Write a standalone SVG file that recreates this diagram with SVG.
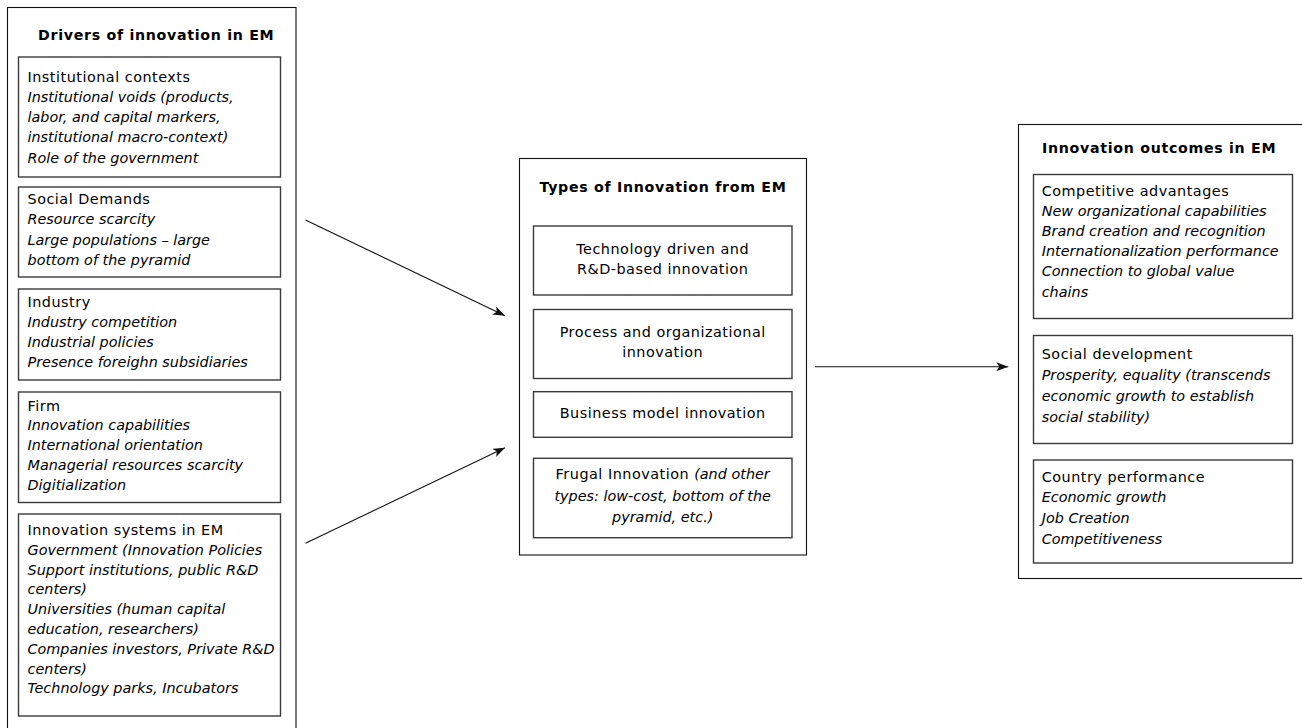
<svg xmlns="http://www.w3.org/2000/svg" width="1302" height="728" viewBox="0 0 1302 728">
<defs>
<style>
.outer{fill:#fff;stroke:#111;stroke-width:1.1}
.box{fill:#fff;stroke:#3a3a3a;stroke-width:1.4}
text{font-family:"DejaVu Sans","Liberation Sans",sans-serif;font-size:14.4px;fill:#000;letter-spacing:0.5px}
.t{font-weight:bold;font-size:14.2px;letter-spacing:0.7px}
.i{font-style:italic;letter-spacing:0}
.c{text-anchor:middle}
.conn{stroke:#111;stroke-width:1.1;fill:none}
</style>
<marker id="ah" markerUnits="userSpaceOnUse" markerWidth="13" markerHeight="10" refX="12" refY="4.5" orient="auto">
<path d="M0,0 L12,4.5 L0,9 L3,4.5 z" fill="#111"/>
</marker>
</defs>
<rect width="1302" height="728" fill="#fff"/>

<g id="drivers">
<rect class="outer" x="7.5" y="7.5" width="288.5" height="740"/>
<text class="t" x="38" y="40">Drivers of innovation in EM</text>
</g>
<g id="institutional">
<rect class="box" x="18.5" y="57" width="262" height="120"/>
<text x="27.5" y="81.7">Institutional contexts</text>
<text class="i" x="27.5" y="101.9">Institutional voids (products,</text>
<text class="i" x="27.5" y="122.1">labor, and capital markers,</text>
<text class="i" x="27.5" y="142.3">institutional macro-context)</text>
<text class="i" x="27.5" y="162.5">Role of the government</text>
</g>
<g id="social">
<rect class="box" x="18.5" y="187" width="262" height="90"/>
<text x="27.5" y="204">Social Demands</text>
<text class="i" x="27.5" y="224">Resource scarcity</text>
<text class="i" x="27.5" y="244.5">Large populations – large</text>
<text class="i" x="27.5" y="265">bottom of the pyramid</text>
</g>
<g id="industry">
<rect class="box" x="18.5" y="289" width="262" height="91"/>
<text x="27.5" y="307">Industry</text>
<text class="i" x="27.5" y="327">Industry competition</text>
<text class="i" x="27.5" y="347">Industrial policies</text>
<text class="i" x="27.5" y="367">Presence foreighn subsidiaries</text>
</g>
<g id="firm">
<rect class="box" x="18.5" y="392" width="262" height="110.5"/>
<text x="27.5" y="410.5">Firm</text>
<text class="i" x="27.5" y="430.3">Innovation capabilities</text>
<text class="i" x="27.5" y="450.1">International orientation</text>
<text class="i" x="27.5" y="469.9">Managerial resources scarcity</text>
<text class="i" x="27.5" y="489.7">Digitialization</text>
</g>
<g id="systems">
<rect class="box" x="18.5" y="514" width="262" height="202"/>
<text x="27.5" y="535">Innovation systems in EM</text>
<text class="i" x="27.5" y="554.8">Government (Innovation Policies</text>
<text class="i" x="27.5" y="574.6">Support institutions, public R&amp;D</text>
<text class="i" x="27.5" y="594.4">centers)</text>
<text class="i" x="27.5" y="614.2">Universities (human capital</text>
<text class="i" x="27.5" y="634">education, researchers)</text>
<text class="i" x="27.5" y="653.8">Companies investors, Private R&amp;D</text>
<text class="i" x="27.5" y="673.6">centers)</text>
<text class="i" x="27.5" y="693.4">Technology parks, Incubators</text>
</g>

<g id="types">
<rect class="outer" x="519.5" y="158.5" width="287" height="396.5"/>
<text class="t c" x="663" y="192.3">Types of Innovation from EM</text>
</g>
<g id="tech">
<rect class="box" x="533.5" y="226" width="258.5" height="69"/>
<text class="c" x="662.7" y="254.3">Technology driven and</text>
<text class="c" x="662.7" y="274.3">R&amp;D-based innovation</text>
</g>
<g id="process">
<rect class="box" x="533.5" y="309.5" width="258.5" height="69"/>
<text class="c" x="662.7" y="336.7">Process and organizational</text>
<text class="c" x="662.7" y="356.7">innovation</text>
</g>
<g id="business">
<rect class="box" x="533.5" y="391.7" width="258.5" height="45.6"/>
<text class="c" x="662.7" y="418.3">Business model innovation</text>
</g>
<g id="frugal">
<rect class="box" x="533.5" y="458.3" width="258.5" height="79.4"/>
<text class="c" x="662.7" y="479.3">Frugal Innovation <tspan class="i">(and other</tspan></text>
<text class="c i" x="662.7" y="500.5">types: low-cost, bottom of the</text>
<text class="c i" x="662.7" y="521.7">pyramid, etc.)</text>
</g>

<g id="outcomes">
<rect class="outer" x="1018.5" y="124.5" width="295" height="454"/>
<text class="t" x="1042" y="153.3">Innovation outcomes in EM</text>
</g>
<g id="competitive">
<rect class="box" x="1033.5" y="174.5" width="259" height="144"/>
<text x="1041.7" y="196">Competitive advantages</text>
<text class="i" x="1041.7" y="216.1">New organizational capabilities</text>
<text class="i" x="1041.7" y="236.2">Brand creation and recognition</text>
<text class="i" x="1041.7" y="256.3">Internationalization performance</text>
<text class="i" x="1041.7" y="276.4">Connection to global value</text>
<text class="i" x="1041.7" y="296.5">chains</text>
</g>
<g id="socialdev">
<rect class="box" x="1033.5" y="335.5" width="259" height="108"/>
<text x="1041.7" y="359.3">Social development</text>
<text class="i" x="1041.7" y="380">Prosperity, equality (transcends</text>
<text class="i" x="1041.7" y="401">economic growth to establish</text>
<text class="i" x="1041.7" y="421.7">social stability)</text>
</g>
<g id="country">
<rect class="box" x="1033.5" y="460" width="259" height="103"/>
<text x="1041.7" y="481.7">Country performance</text>
<text class="i" x="1041.7" y="502.3">Economic growth</text>
<text class="i" x="1041.7" y="522.9">Job Creation</text>
<text class="i" x="1041.7" y="543.5">Competitiveness</text>
</g>

<g id="connectors">
<line class="conn" x1="305.5" y1="220" x2="505" y2="315.7" marker-end="url(#ah)"/>
<line class="conn" x1="305.5" y1="543.3" x2="505" y2="447.7" marker-end="url(#ah)"/>
<line class="conn" x1="815" y1="366.7" x2="1008.3" y2="366.7" marker-end="url(#ah)"/>
</g>
</svg>
